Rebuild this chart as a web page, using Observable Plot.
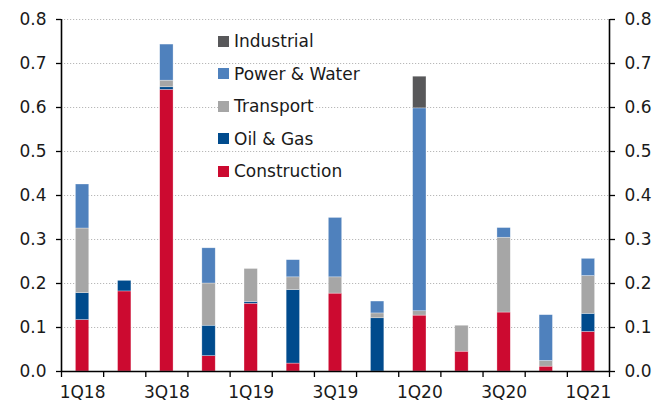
<!DOCTYPE html>
<html><head><meta charset="utf-8">
<script src="https://cdn.jsdelivr.net/npm/d3@7"></script>
<script src="https://cdn.jsdelivr.net/npm/@observablehq/plot@0.6"></script>
<style>
body{margin:0;background:#fff;}
#wrap{position:relative;width:658px;height:403px;font-family:"DejaVu Sans",sans-serif;}
#wrap svg{display:block;}
#legend{position:absolute;left:218px;top:25px;}
.row{height:32.5px;display:flex;align-items:center;}
.item{background:#fff;display:inline-flex;align-items:center;font-size:17px;color:#1a1a1a;padding-right:2px;}
.sw{width:11px;height:11px;margin-right:5px;display:inline-block;}
</style></head><body><div id="wrap"><div id="legend"></div></div>
<script>
const quarters = ["1Q18","2Q18","3Q18","4Q18","1Q19","2Q19","3Q19","4Q19","1Q20","2Q20","3Q20","4Q20","1Q21"];
const xLabels = ["1Q18","3Q18","1Q19","3Q19","1Q20","3Q20","1Q21"];
const sectors = ["Construction","Oil & Gas","Transport","Power & Water","Industrial"];
const colors = ["#cc0a30","#004b8d","#a6a6a6","#4f81bd","#58585a"];
const construction = [0.117,0.182,0.640,0.035,0.154,0.018,0.177,0.000,0.127,0.045,0.134,0.011,0.090];
const oilGas       = [0.061,0.024,0.006,0.069,0.004,0.167,0.000,0.121,0.000,0.000,0.000,0.000,0.041];
const transport    = [0.147,0.000,0.015,0.096,0.075,0.029,0.037,0.011,0.010,0.059,0.170,0.013,0.086];
const powerWater   = [0.100,0.000,0.082,0.080,0.000,0.039,0.135,0.027,0.461,0.000,0.022,0.104,0.039];
const industrial   = [0.000,0.000,0.000,0.000,0.000,0.000,0.000,0.000,0.072,0.000,0.000,0.000,0.000];
const yTicks = [0,0.1,0.2,0.3,0.4,0.5,0.6,0.7,0.8];

const seriesValues = [construction, oilGas, transport, powerWater, industrial];
const data = [];
quarters.forEach((q, i) => {
  sectors.forEach((s, k) => {
    const v = seriesValues[k][i];
    if (v > 0) data.push({i, quarter: q, sector: s, value: v});
  });
});

const tickStyle = {fontSize: 17, letterSpacing: "0.8px"};
const chart = Plot.plot({
  width: 658, height: 403,
  marginLeft: 61, marginRight: 49, marginTop: 19, marginBottom: 32,
  style: {fontFamily: "'DejaVu Sans', sans-serif", fontSize: "17px", color: "#1a1a1a", background: "#fff"},
  x: {type: "linear", domain: [0, quarters.length]},
  y: {domain: [0, 0.8]},
  color: {domain: sectors, range: colors},
  marks: [
    Plot.gridY(yTicks.slice(1), {stroke: "#b8b8b8", strokeOpacity: 1, strokeDasharray: "1.2,1.8", strokeWidth: 1}),
    Plot.rectY(data, Plot.stackY({x1: "i", x2: d => d.i + 1, y: "value", fill: "sector", insetLeft: 14.4, insetRight: 14.4, stroke: "#fff", strokeOpacity: 0.5, strokeWidth: 0.6})),
    Plot.axisY({anchor: "left", ticks: yTicks, tickFormat: ".1f", tickSize: 5, tickPadding: 10, label: null, stroke: "#000", strokeWidth: 1.3, ...tickStyle}),
    Plot.axisY({anchor: "right", ticks: yTicks, tickFormat: ".1f", tickSize: 5, tickPadding: 10, label: null, stroke: "#000", strokeWidth: 1.3, ...tickStyle}),
    Plot.axisX({ticks: d3.range(quarters.length + 1), tickSize: 6, tickFormat: () => "", label: null, stroke: "#000", strokeWidth: 1.3}),
    Plot.axisX({ticks: xLabels.map(q => quarters.indexOf(q) + 0.5), tickSize: 0, tickPadding: 14, tickFormat: d => quarters[d - 0.5], label: null, ...tickStyle}),
    Plot.ruleX([0, quarters.length], {y1: 0, y2: 0.8, stroke: "#000", strokeWidth: 1.6}),
    Plot.ruleY([0], {stroke: "#000", strokeWidth: 1.6})
  ]
});
const wrap = document.getElementById("wrap");
wrap.insertBefore(chart, wrap.firstChild);

const legend = document.getElementById("legend");
sectors.slice().reverse().forEach(s => {
  const row = document.createElement("div");
  row.className = "row";
  const item = document.createElement("span");
  item.className = "item";
  const sw = document.createElement("span");
  sw.className = "sw";
  sw.style.background = colors[sectors.indexOf(s)];
  item.appendChild(sw);
  item.appendChild(document.createTextNode(s));
  row.appendChild(item);
  legend.appendChild(row);
});
</script></body></html>
